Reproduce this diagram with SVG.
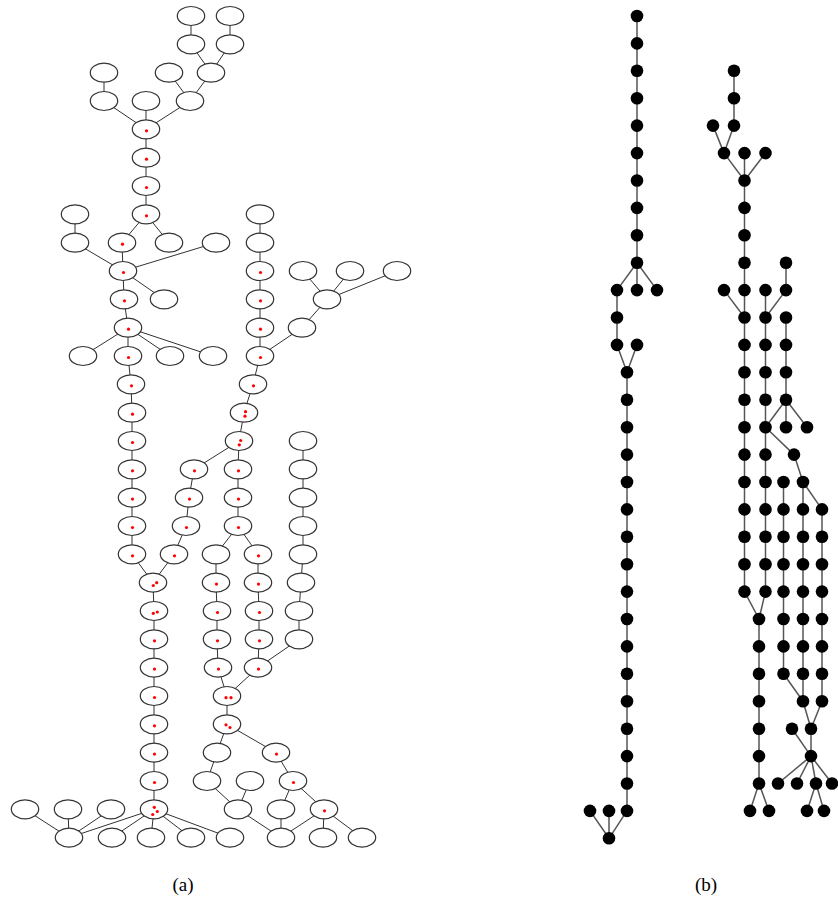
<svg xmlns="http://www.w3.org/2000/svg" width="838" height="901" viewBox="0 0 838 901">
<style>
.an ellipse{fill:#fff;stroke:#333;stroke-width:1.2}
.rd{fill:#f00}
.bn circle{fill:#000}
#a-edges line{stroke:#333;stroke-width:1}
#b-edges line{stroke:#555;stroke-width:1.5}
.lbl{font-family:"Liberation Serif","DejaVu Serif",serif;font-size:19px;fill:#000;text-anchor:middle}
</style>
<rect width="838" height="901" fill="#fff"/>
<g id="a-edges">
<line x1="191" y1="16" x2="191" y2="44.3"/>
<line x1="230" y1="16" x2="230" y2="44.3"/>
<line x1="191" y1="44.3" x2="211" y2="72.7"/>
<line x1="230" y1="44.3" x2="211" y2="72.7"/>
<line x1="104" y1="72.7" x2="104" y2="101"/>
<line x1="169" y1="72.7" x2="190" y2="101"/>
<line x1="211" y1="72.7" x2="190" y2="101"/>
<line x1="104" y1="101" x2="146" y2="129.3"/>
<line x1="146" y1="101" x2="146" y2="129.3"/>
<line x1="190" y1="101" x2="146" y2="129.3"/>
<line x1="146" y1="129.3" x2="146" y2="157.7"/>
<line x1="146" y1="157.7" x2="146" y2="186"/>
<line x1="146" y1="186" x2="146" y2="214.3"/>
<line x1="75" y1="214.3" x2="75" y2="242.7"/>
<line x1="146" y1="214.3" x2="122" y2="242.7"/>
<line x1="146" y1="214.3" x2="169" y2="242.7"/>
<line x1="260" y1="214.3" x2="260" y2="242.7"/>
<line x1="75" y1="242.7" x2="123" y2="271"/>
<line x1="122" y1="242.7" x2="123" y2="271"/>
<line x1="216" y1="242.7" x2="123" y2="271"/>
<line x1="260" y1="242.7" x2="260" y2="271"/>
<line x1="123" y1="271" x2="124" y2="299.3"/>
<line x1="123" y1="271" x2="164" y2="299.3"/>
<line x1="260" y1="271" x2="260" y2="299.3"/>
<line x1="303" y1="271" x2="327" y2="299.3"/>
<line x1="350" y1="271" x2="327" y2="299.3"/>
<line x1="397" y1="271" x2="327" y2="299.3"/>
<line x1="124" y1="299.3" x2="128" y2="327.7"/>
<line x1="260" y1="299.3" x2="260" y2="327.7"/>
<line x1="327" y1="299.3" x2="302" y2="327.7"/>
<line x1="128" y1="327.7" x2="83" y2="356"/>
<line x1="128" y1="327.7" x2="128" y2="356"/>
<line x1="128" y1="327.7" x2="170" y2="356"/>
<line x1="128" y1="327.7" x2="213" y2="356"/>
<line x1="260" y1="327.7" x2="260" y2="356"/>
<line x1="302" y1="327.7" x2="260" y2="356"/>
<line x1="128" y1="356" x2="131" y2="384.3"/>
<line x1="260" y1="356" x2="253" y2="384.3"/>
<line x1="131" y1="384.3" x2="132" y2="412.7"/>
<line x1="253" y1="384.3" x2="244" y2="412.7"/>
<line x1="132" y1="412.7" x2="132" y2="441"/>
<line x1="244" y1="412.7" x2="239" y2="441"/>
<line x1="132" y1="441" x2="132" y2="469.3"/>
<line x1="239" y1="441" x2="194" y2="469.3"/>
<line x1="239" y1="441" x2="238" y2="469.3"/>
<line x1="303" y1="441" x2="303" y2="469.3"/>
<line x1="132" y1="469.3" x2="132" y2="497.6"/>
<line x1="194" y1="469.3" x2="189" y2="497.6"/>
<line x1="238" y1="469.3" x2="238" y2="497.6"/>
<line x1="303" y1="469.3" x2="303" y2="497.6"/>
<line x1="132" y1="497.6" x2="132" y2="526"/>
<line x1="189" y1="497.6" x2="186" y2="526"/>
<line x1="238" y1="497.6" x2="238" y2="526"/>
<line x1="303" y1="497.6" x2="303" y2="526"/>
<line x1="132" y1="526" x2="132" y2="554.3"/>
<line x1="186" y1="526" x2="174" y2="554.3"/>
<line x1="238" y1="526" x2="216" y2="554.3"/>
<line x1="238" y1="526" x2="258" y2="554.3"/>
<line x1="303" y1="526" x2="303" y2="554.3"/>
<line x1="132" y1="554.3" x2="153" y2="582.6"/>
<line x1="174" y1="554.3" x2="153" y2="582.6"/>
<line x1="216" y1="554.3" x2="216" y2="582.6"/>
<line x1="258" y1="554.3" x2="258" y2="582.6"/>
<line x1="303" y1="554.3" x2="301" y2="582.6"/>
<line x1="153" y1="582.6" x2="154" y2="611"/>
<line x1="216" y1="582.6" x2="217" y2="611"/>
<line x1="258" y1="582.6" x2="259" y2="611"/>
<line x1="301" y1="582.6" x2="299" y2="611"/>
<line x1="154" y1="611" x2="154" y2="639.3"/>
<line x1="217" y1="611" x2="217" y2="639.3"/>
<line x1="259" y1="611" x2="259" y2="639.3"/>
<line x1="299" y1="611" x2="299" y2="639.3"/>
<line x1="154" y1="639.3" x2="154" y2="667.6"/>
<line x1="217" y1="639.3" x2="218" y2="667.6"/>
<line x1="259" y1="639.3" x2="258" y2="667.6"/>
<line x1="299" y1="639.3" x2="258" y2="667.6"/>
<line x1="154" y1="667.6" x2="154" y2="696"/>
<line x1="218" y1="667.6" x2="227" y2="696"/>
<line x1="258" y1="667.6" x2="227" y2="696"/>
<line x1="154" y1="696" x2="154" y2="724.3"/>
<line x1="227" y1="696" x2="227" y2="724.3"/>
<line x1="154" y1="724.3" x2="154" y2="752.6"/>
<line x1="227" y1="724.3" x2="217" y2="752.6"/>
<line x1="227" y1="724.3" x2="276" y2="752.6"/>
<line x1="154" y1="752.6" x2="154" y2="781"/>
<line x1="217" y1="752.6" x2="207" y2="781"/>
<line x1="276" y1="752.6" x2="293" y2="781"/>
<line x1="154" y1="781" x2="154" y2="809.3"/>
<line x1="207" y1="781" x2="238" y2="809.3"/>
<line x1="250" y1="781" x2="238" y2="809.3"/>
<line x1="293" y1="781" x2="281" y2="809.3"/>
<line x1="293" y1="781" x2="324" y2="809.3"/>
<line x1="25" y1="809.3" x2="69" y2="837.6"/>
<line x1="68" y1="809.3" x2="69" y2="837.6"/>
<line x1="111" y1="809.3" x2="69" y2="837.6"/>
<line x1="154" y1="809.3" x2="69" y2="837.6"/>
<line x1="154" y1="809.3" x2="112" y2="837.6"/>
<line x1="154" y1="809.3" x2="151" y2="837.6"/>
<line x1="154" y1="809.3" x2="191" y2="837.6"/>
<line x1="154" y1="809.3" x2="230" y2="837.6"/>
<line x1="238" y1="809.3" x2="281" y2="837.6"/>
<line x1="281" y1="809.3" x2="281" y2="837.6"/>
<line x1="324" y1="809.3" x2="281" y2="837.6"/>
<line x1="324" y1="809.3" x2="323" y2="837.6"/>
<line x1="324" y1="809.3" x2="362" y2="837.6"/>
</g>
<g id="a-nodes">
<g id="a1" class="an"><ellipse cx="191" cy="16" rx="13.7" ry="9.5"/></g>
<g id="a2" class="an"><ellipse cx="230" cy="16" rx="13.7" ry="9.5"/></g>
<g id="a3" class="an"><ellipse cx="191" cy="44.3" rx="13.7" ry="9.5"/></g>
<g id="a4" class="an"><ellipse cx="230" cy="44.3" rx="13.7" ry="9.5"/></g>
<g id="a5" class="an"><ellipse cx="104" cy="72.7" rx="13.7" ry="9.5"/></g>
<g id="a6" class="an"><ellipse cx="169" cy="72.7" rx="13.7" ry="9.5"/></g>
<g id="a7" class="an"><ellipse cx="211" cy="72.7" rx="13.7" ry="9.5"/></g>
<g id="a8" class="an"><ellipse cx="104" cy="101" rx="13.7" ry="9.5"/></g>
<g id="a9" class="an"><ellipse cx="146" cy="101" rx="13.7" ry="9.5"/></g>
<g id="a10" class="an"><ellipse cx="190" cy="101" rx="13.7" ry="9.5"/></g>
<g id="a11" class="an"><ellipse cx="146" cy="129.3" rx="13.7" ry="9.5"/><circle class="rd" cx="146.5" cy="130.8" r="1.6"/></g>
<g id="a12" class="an"><ellipse cx="146" cy="157.7" rx="13.7" ry="9.5"/><circle class="rd" cx="146.5" cy="159.2" r="1.6"/></g>
<g id="a13" class="an"><ellipse cx="146" cy="186" rx="13.7" ry="9.5"/><circle class="rd" cx="146.5" cy="187.5" r="1.6"/></g>
<g id="a14" class="an"><ellipse cx="75" cy="214.3" rx="13.7" ry="9.5"/></g>
<g id="a15" class="an"><ellipse cx="146" cy="214.3" rx="13.7" ry="9.5"/><circle class="rd" cx="146.5" cy="215.8" r="1.6"/></g>
<g id="a16" class="an"><ellipse cx="260" cy="214.3" rx="13.7" ry="9.5"/></g>
<g id="a17" class="an"><ellipse cx="75" cy="242.7" rx="13.7" ry="9.5"/></g>
<g id="a18" class="an"><ellipse cx="122" cy="242.7" rx="13.7" ry="9.5"/><circle class="rd" cx="122.5" cy="244.2" r="1.6"/></g>
<g id="a19" class="an"><ellipse cx="169" cy="242.7" rx="13.7" ry="9.5"/></g>
<g id="a20" class="an"><ellipse cx="216" cy="242.7" rx="13.7" ry="9.5"/></g>
<g id="a21" class="an"><ellipse cx="260" cy="242.7" rx="13.7" ry="9.5"/></g>
<g id="a22" class="an"><ellipse cx="123" cy="271" rx="13.7" ry="9.5"/><circle class="rd" cx="123.5" cy="272.5" r="1.6"/></g>
<g id="a23" class="an"><ellipse cx="260" cy="271" rx="13.7" ry="9.5"/><circle class="rd" cx="260.5" cy="272.5" r="1.6"/></g>
<g id="a24" class="an"><ellipse cx="303" cy="271" rx="13.7" ry="9.5"/></g>
<g id="a25" class="an"><ellipse cx="350" cy="271" rx="13.7" ry="9.5"/></g>
<g id="a26" class="an"><ellipse cx="397" cy="271" rx="13.7" ry="9.5"/></g>
<g id="a27" class="an"><ellipse cx="124" cy="299.3" rx="13.7" ry="9.5"/><circle class="rd" cx="124.5" cy="300.8" r="1.6"/></g>
<g id="a28" class="an"><ellipse cx="164" cy="299.3" rx="13.7" ry="9.5"/></g>
<g id="a29" class="an"><ellipse cx="260" cy="299.3" rx="13.7" ry="9.5"/><circle class="rd" cx="260.5" cy="300.8" r="1.6"/></g>
<g id="a30" class="an"><ellipse cx="327" cy="299.3" rx="13.7" ry="9.5"/></g>
<g id="a31" class="an"><ellipse cx="128" cy="327.7" rx="13.7" ry="9.5"/><circle class="rd" cx="128.5" cy="329.2" r="1.6"/></g>
<g id="a32" class="an"><ellipse cx="260" cy="327.7" rx="13.7" ry="9.5"/><circle class="rd" cx="260.5" cy="329.2" r="1.6"/></g>
<g id="a33" class="an"><ellipse cx="302" cy="327.7" rx="13.7" ry="9.5"/></g>
<g id="a34" class="an"><ellipse cx="83" cy="356" rx="13.7" ry="9.5"/></g>
<g id="a35" class="an"><ellipse cx="128" cy="356" rx="13.7" ry="9.5"/><circle class="rd" cx="128.5" cy="357.5" r="1.6"/></g>
<g id="a36" class="an"><ellipse cx="170" cy="356" rx="13.7" ry="9.5"/></g>
<g id="a37" class="an"><ellipse cx="213" cy="356" rx="13.7" ry="9.5"/></g>
<g id="a38" class="an"><ellipse cx="260" cy="356" rx="13.7" ry="9.5"/><circle class="rd" cx="260.5" cy="357.5" r="1.6"/></g>
<g id="a39" class="an"><ellipse cx="131" cy="384.3" rx="13.7" ry="9.5"/><circle class="rd" cx="131.5" cy="385.8" r="1.6"/></g>
<g id="a40" class="an"><ellipse cx="253" cy="384.3" rx="13.7" ry="9.5"/><circle class="rd" cx="253.5" cy="385.8" r="1.6"/></g>
<g id="a41" class="an"><ellipse cx="132" cy="412.7" rx="13.7" ry="9.5"/><circle class="rd" cx="132.5" cy="414.2" r="1.6"/></g>
<g id="a42" class="an"><ellipse cx="244" cy="412.7" rx="13.7" ry="9.5"/><circle class="rd" cx="245.5" cy="411.7" r="1.6"/><circle class="rd" cx="245" cy="416.2" r="1.6"/></g>
<g id="a43" class="an"><ellipse cx="132" cy="441" rx="13.7" ry="9.5"/><circle class="rd" cx="132.5" cy="442.5" r="1.6"/></g>
<g id="a44" class="an"><ellipse cx="239" cy="441" rx="13.7" ry="9.5"/><circle class="rd" cx="240.7" cy="440.5" r="1.6"/><circle class="rd" cx="239.3" cy="444.8" r="1.6"/></g>
<g id="a45" class="an"><ellipse cx="303" cy="441" rx="13.7" ry="9.5"/></g>
<g id="a46" class="an"><ellipse cx="132" cy="469.3" rx="13.7" ry="9.5"/><circle class="rd" cx="132.5" cy="470.8" r="1.6"/></g>
<g id="a47" class="an"><ellipse cx="194" cy="469.3" rx="13.7" ry="9.5"/><circle class="rd" cx="194.5" cy="470.8" r="1.6"/></g>
<g id="a48" class="an"><ellipse cx="238" cy="469.3" rx="13.7" ry="9.5"/><circle class="rd" cx="238.5" cy="470.8" r="1.6"/></g>
<g id="a49" class="an"><ellipse cx="303" cy="469.3" rx="13.7" ry="9.5"/></g>
<g id="a50" class="an"><ellipse cx="132" cy="497.6" rx="13.7" ry="9.5"/><circle class="rd" cx="132.5" cy="499.1" r="1.6"/></g>
<g id="a51" class="an"><ellipse cx="189" cy="497.6" rx="13.7" ry="9.5"/><circle class="rd" cx="189.5" cy="499.1" r="1.6"/></g>
<g id="a52" class="an"><ellipse cx="238" cy="497.6" rx="13.7" ry="9.5"/><circle class="rd" cx="238.5" cy="499.1" r="1.6"/></g>
<g id="a53" class="an"><ellipse cx="303" cy="497.6" rx="13.7" ry="9.5"/></g>
<g id="a54" class="an"><ellipse cx="132" cy="526" rx="13.7" ry="9.5"/><circle class="rd" cx="132.5" cy="527.5" r="1.6"/></g>
<g id="a55" class="an"><ellipse cx="186" cy="526" rx="13.7" ry="9.5"/><circle class="rd" cx="186.5" cy="527.5" r="1.6"/></g>
<g id="a56" class="an"><ellipse cx="238" cy="526" rx="13.7" ry="9.5"/><circle class="rd" cx="238.5" cy="527.5" r="1.6"/></g>
<g id="a57" class="an"><ellipse cx="303" cy="526" rx="13.7" ry="9.5"/></g>
<g id="a58" class="an"><ellipse cx="132" cy="554.3" rx="13.7" ry="9.5"/><circle class="rd" cx="132.5" cy="555.8" r="1.6"/></g>
<g id="a59" class="an"><ellipse cx="174" cy="554.3" rx="13.7" ry="9.5"/><circle class="rd" cx="174.5" cy="555.8" r="1.6"/></g>
<g id="a60" class="an"><ellipse cx="216" cy="554.3" rx="13.7" ry="9.5"/></g>
<g id="a61" class="an"><ellipse cx="258" cy="554.3" rx="13.7" ry="9.5"/><circle class="rd" cx="258.5" cy="555.8" r="1.6"/></g>
<g id="a62" class="an"><ellipse cx="303" cy="554.3" rx="13.7" ry="9.5"/></g>
<g id="a63" class="an"><ellipse cx="153" cy="582.6" rx="13.7" ry="9.5"/><circle class="rd" cx="153.3" cy="585.5" r="1.6"/><circle class="rd" cx="156.7" cy="582.7" r="1.6"/></g>
<g id="a64" class="an"><ellipse cx="216" cy="582.6" rx="13.7" ry="9.5"/><circle class="rd" cx="216.5" cy="584.1" r="1.6"/></g>
<g id="a65" class="an"><ellipse cx="258" cy="582.6" rx="13.7" ry="9.5"/><circle class="rd" cx="258.5" cy="584.1" r="1.6"/></g>
<g id="a66" class="an"><ellipse cx="301" cy="582.6" rx="13.7" ry="9.5"/></g>
<g id="a67" class="an"><ellipse cx="154" cy="611" rx="13.7" ry="9.5"/><circle class="rd" cx="153.3" cy="613.3" r="1.6"/><circle class="rd" cx="157.3" cy="612" r="1.6"/></g>
<g id="a68" class="an"><ellipse cx="217" cy="611" rx="13.7" ry="9.5"/><circle class="rd" cx="217.5" cy="612.5" r="1.6"/></g>
<g id="a69" class="an"><ellipse cx="259" cy="611" rx="13.7" ry="9.5"/><circle class="rd" cx="259.5" cy="612.5" r="1.6"/></g>
<g id="a70" class="an"><ellipse cx="299" cy="611" rx="13.7" ry="9.5"/></g>
<g id="a71" class="an"><ellipse cx="154" cy="639.3" rx="13.7" ry="9.5"/><circle class="rd" cx="154.5" cy="640.8" r="1.6"/></g>
<g id="a72" class="an"><ellipse cx="217" cy="639.3" rx="13.7" ry="9.5"/><circle class="rd" cx="217.5" cy="640.8" r="1.6"/></g>
<g id="a73" class="an"><ellipse cx="259" cy="639.3" rx="13.7" ry="9.5"/><circle class="rd" cx="259.5" cy="640.8" r="1.6"/></g>
<g id="a74" class="an"><ellipse cx="299" cy="639.3" rx="13.7" ry="9.5"/></g>
<g id="a75" class="an"><ellipse cx="154" cy="667.6" rx="13.7" ry="9.5"/><circle class="rd" cx="154.5" cy="669.1" r="1.6"/></g>
<g id="a76" class="an"><ellipse cx="218" cy="667.6" rx="13.7" ry="9.5"/><circle class="rd" cx="218.5" cy="669.1" r="1.6"/></g>
<g id="a77" class="an"><ellipse cx="258" cy="667.6" rx="13.7" ry="9.5"/><circle class="rd" cx="258.5" cy="669.1" r="1.6"/></g>
<g id="a78" class="an"><ellipse cx="154" cy="696" rx="13.7" ry="9.5"/><circle class="rd" cx="154.5" cy="697.5" r="1.6"/></g>
<g id="a79" class="an"><ellipse cx="227" cy="696" rx="13.7" ry="9.5"/><circle class="rd" cx="226" cy="697.7" r="1.6"/><circle class="rd" cx="231" cy="697.7" r="1.6"/></g>
<g id="a80" class="an"><ellipse cx="154" cy="724.3" rx="13.7" ry="9.5"/><circle class="rd" cx="154.5" cy="725.8" r="1.6"/></g>
<g id="a81" class="an"><ellipse cx="227" cy="724.3" rx="13.7" ry="9.5"/><circle class="rd" cx="226" cy="724.8" r="1.6"/><circle class="rd" cx="230" cy="727.5" r="1.6"/></g>
<g id="a82" class="an"><ellipse cx="154" cy="752.6" rx="13.7" ry="9.5"/><circle class="rd" cx="154.5" cy="754.1" r="1.6"/></g>
<g id="a83" class="an"><ellipse cx="217" cy="752.6" rx="13.7" ry="9.5"/></g>
<g id="a84" class="an"><ellipse cx="276" cy="752.6" rx="13.7" ry="9.5"/><circle class="rd" cx="276.5" cy="754.1" r="1.6"/></g>
<g id="a85" class="an"><ellipse cx="154" cy="781" rx="13.7" ry="9.5"/><circle class="rd" cx="154.5" cy="782.5" r="1.6"/></g>
<g id="a86" class="an"><ellipse cx="207" cy="781" rx="13.7" ry="9.5"/></g>
<g id="a87" class="an"><ellipse cx="250" cy="781" rx="13.7" ry="9.5"/></g>
<g id="a88" class="an"><ellipse cx="293" cy="781" rx="13.7" ry="9.5"/><circle class="rd" cx="293.5" cy="782.5" r="1.6"/></g>
<g id="a89" class="an"><ellipse cx="25" cy="809.3" rx="13.7" ry="9.5"/></g>
<g id="a90" class="an"><ellipse cx="68" cy="809.3" rx="13.7" ry="9.5"/></g>
<g id="a91" class="an"><ellipse cx="111" cy="809.3" rx="13.7" ry="9.5"/></g>
<g id="a92" class="an"><ellipse cx="154" cy="809.3" rx="13.7" ry="9.5"/><circle class="rd" cx="154.3" cy="807.3" r="1.6"/><circle class="rd" cx="157.3" cy="811.5" r="1.6"/><circle class="rd" cx="152.7" cy="814.5" r="1.6"/></g>
<g id="a93" class="an"><ellipse cx="238" cy="809.3" rx="13.7" ry="9.5"/></g>
<g id="a94" class="an"><ellipse cx="281" cy="809.3" rx="13.7" ry="9.5"/></g>
<g id="a95" class="an"><ellipse cx="324" cy="809.3" rx="13.7" ry="9.5"/><circle class="rd" cx="324.5" cy="810.8" r="1.6"/></g>
<g id="a96" class="an"><ellipse cx="69" cy="837.6" rx="13.7" ry="9.5"/></g>
<g id="a97" class="an"><ellipse cx="112" cy="837.6" rx="13.7" ry="9.5"/></g>
<g id="a98" class="an"><ellipse cx="151" cy="837.6" rx="13.7" ry="9.5"/></g>
<g id="a99" class="an"><ellipse cx="191" cy="837.6" rx="13.7" ry="9.5"/></g>
<g id="a100" class="an"><ellipse cx="230" cy="837.6" rx="13.7" ry="9.5"/></g>
<g id="a101" class="an"><ellipse cx="281" cy="837.6" rx="13.7" ry="9.5"/></g>
<g id="a102" class="an"><ellipse cx="323" cy="837.6" rx="13.7" ry="9.5"/></g>
<g id="a103" class="an"><ellipse cx="362" cy="837.6" rx="13.7" ry="9.5"/></g>
</g>
<g id="b-edges">
<line x1="637" y1="16" x2="637" y2="43.4"/>
<line x1="637" y1="43.4" x2="637" y2="70.8"/>
<line x1="637" y1="70.8" x2="637" y2="98.2"/>
<line x1="637" y1="98.2" x2="637" y2="125.6"/>
<line x1="637" y1="125.6" x2="637" y2="153.1"/>
<line x1="637" y1="153.1" x2="637" y2="180.5"/>
<line x1="637" y1="180.5" x2="637" y2="207.9"/>
<line x1="637" y1="207.9" x2="637" y2="235.3"/>
<line x1="637" y1="235.3" x2="637" y2="262.7"/>
<line x1="637" y1="262.7" x2="617" y2="290.1"/>
<line x1="637" y1="262.7" x2="637" y2="290.1"/>
<line x1="637" y1="262.7" x2="657" y2="290.1"/>
<line x1="617" y1="290.1" x2="617" y2="317.5"/>
<line x1="617" y1="317.5" x2="617" y2="344.9"/>
<line x1="617" y1="344.9" x2="627" y2="372.3"/>
<line x1="637" y1="344.9" x2="627" y2="372.3"/>
<line x1="627" y1="372.3" x2="627" y2="399.7"/>
<line x1="627" y1="399.7" x2="627" y2="427.2"/>
<line x1="627" y1="427.2" x2="627" y2="454.6"/>
<line x1="627" y1="454.6" x2="627" y2="482"/>
<line x1="627" y1="482" x2="627" y2="509.4"/>
<line x1="627" y1="509.4" x2="627" y2="536.8"/>
<line x1="627" y1="536.8" x2="627" y2="564.2"/>
<line x1="627" y1="564.2" x2="627" y2="591.6"/>
<line x1="627" y1="591.6" x2="627" y2="619"/>
<line x1="627" y1="619" x2="627" y2="646.4"/>
<line x1="627" y1="646.4" x2="627" y2="673.8"/>
<line x1="627" y1="673.8" x2="627" y2="701.3"/>
<line x1="627" y1="701.3" x2="627" y2="728.7"/>
<line x1="627" y1="728.7" x2="627" y2="756.1"/>
<line x1="627" y1="756.1" x2="627" y2="783.5"/>
<line x1="627" y1="783.5" x2="627" y2="810.9"/>
<line x1="590" y1="810.9" x2="609" y2="838.3"/>
<line x1="609" y1="810.9" x2="609" y2="838.3"/>
<line x1="627" y1="810.9" x2="609" y2="838.3"/>
<line x1="734" y1="70.8" x2="734" y2="98.2"/>
<line x1="734" y1="98.2" x2="734" y2="125.6"/>
<line x1="713" y1="125.6" x2="724" y2="153.1"/>
<line x1="734" y1="125.6" x2="724" y2="153.1"/>
<line x1="724" y1="153.1" x2="744.5" y2="180.5"/>
<line x1="744.5" y1="153.1" x2="744.5" y2="180.5"/>
<line x1="765.5" y1="153.1" x2="744.5" y2="180.5"/>
<line x1="744.5" y1="180.5" x2="744.5" y2="207.9"/>
<line x1="744.5" y1="207.9" x2="744.5" y2="235.3"/>
<line x1="744.5" y1="235.3" x2="744.5" y2="262.7"/>
<line x1="744.5" y1="262.7" x2="744.5" y2="290.1"/>
<line x1="744.5" y1="290.1" x2="744.5" y2="317.5"/>
<line x1="744.5" y1="317.5" x2="744.5" y2="344.9"/>
<line x1="744.5" y1="344.9" x2="744.5" y2="372.3"/>
<line x1="744.5" y1="372.3" x2="744.5" y2="399.7"/>
<line x1="744.5" y1="399.7" x2="744.5" y2="427.2"/>
<line x1="744.5" y1="427.2" x2="744.5" y2="454.6"/>
<line x1="744.5" y1="454.6" x2="744.5" y2="482"/>
<line x1="744.5" y1="482" x2="744.5" y2="509.4"/>
<line x1="744.5" y1="509.4" x2="744.5" y2="536.8"/>
<line x1="744.5" y1="536.8" x2="744.5" y2="564.2"/>
<line x1="744.5" y1="564.2" x2="744.5" y2="591.6"/>
<line x1="786" y1="262.7" x2="786" y2="290.1"/>
<line x1="724" y1="290.1" x2="744.5" y2="317.5"/>
<line x1="765.5" y1="290.1" x2="765.5" y2="317.5"/>
<line x1="786" y1="290.1" x2="765.5" y2="317.5"/>
<line x1="786" y1="317.5" x2="786" y2="344.9"/>
<line x1="786" y1="344.9" x2="786" y2="372.3"/>
<line x1="786" y1="372.3" x2="786" y2="399.7"/>
<line x1="765.5" y1="317.5" x2="765.5" y2="344.9"/>
<line x1="765.5" y1="344.9" x2="765.5" y2="372.3"/>
<line x1="765.5" y1="372.3" x2="765.5" y2="399.7"/>
<line x1="765.5" y1="399.7" x2="765.5" y2="427.2"/>
<line x1="786" y1="399.7" x2="765.5" y2="427.2"/>
<line x1="786" y1="399.7" x2="786" y2="427.2"/>
<line x1="786" y1="399.7" x2="807" y2="427.2"/>
<line x1="765.5" y1="427.2" x2="765.5" y2="454.6"/>
<line x1="765.5" y1="427.2" x2="794" y2="454.6"/>
<line x1="765.5" y1="454.6" x2="765.5" y2="482"/>
<line x1="794" y1="454.6" x2="803" y2="482"/>
<line x1="765.5" y1="482" x2="765.5" y2="509.4"/>
<line x1="765.5" y1="509.4" x2="765.5" y2="536.8"/>
<line x1="765.5" y1="536.8" x2="765.5" y2="564.2"/>
<line x1="765.5" y1="564.2" x2="765.5" y2="591.6"/>
<line x1="783.5" y1="482" x2="783.5" y2="509.4"/>
<line x1="783.5" y1="509.4" x2="783.5" y2="536.8"/>
<line x1="783.5" y1="536.8" x2="783.5" y2="564.2"/>
<line x1="783.5" y1="564.2" x2="783.5" y2="591.6"/>
<line x1="803" y1="482" x2="803" y2="509.4"/>
<line x1="803" y1="509.4" x2="803" y2="536.8"/>
<line x1="803" y1="536.8" x2="803" y2="564.2"/>
<line x1="803" y1="564.2" x2="803" y2="591.6"/>
<line x1="803" y1="482" x2="822" y2="509.4"/>
<line x1="822" y1="509.4" x2="822" y2="536.8"/>
<line x1="822" y1="536.8" x2="822" y2="564.2"/>
<line x1="822" y1="564.2" x2="822" y2="591.6"/>
<line x1="744.5" y1="591.6" x2="759" y2="619"/>
<line x1="765.5" y1="591.6" x2="759" y2="619"/>
<line x1="783.5" y1="591.6" x2="783.5" y2="619"/>
<line x1="803" y1="591.6" x2="803" y2="619"/>
<line x1="822" y1="591.6" x2="822" y2="619"/>
<line x1="759" y1="619" x2="759" y2="646.4"/>
<line x1="759" y1="646.4" x2="759" y2="673.8"/>
<line x1="759" y1="673.8" x2="759" y2="701.3"/>
<line x1="759" y1="701.3" x2="759" y2="728.7"/>
<line x1="759" y1="728.7" x2="759" y2="756.1"/>
<line x1="759" y1="756.1" x2="759" y2="783.5"/>
<line x1="783.5" y1="619" x2="783.5" y2="646.4"/>
<line x1="783.5" y1="646.4" x2="783.5" y2="673.8"/>
<line x1="803" y1="619" x2="803" y2="646.4"/>
<line x1="803" y1="646.4" x2="803" y2="673.8"/>
<line x1="803" y1="673.8" x2="803" y2="701.3"/>
<line x1="822" y1="619" x2="822" y2="646.4"/>
<line x1="822" y1="646.4" x2="822" y2="673.8"/>
<line x1="822" y1="673.8" x2="822" y2="701.3"/>
<line x1="783.5" y1="673.8" x2="803" y2="701.3"/>
<line x1="803" y1="701.3" x2="811" y2="728.7"/>
<line x1="822" y1="701.3" x2="811" y2="728.7"/>
<line x1="792" y1="728.7" x2="811" y2="756.1"/>
<line x1="811" y1="728.7" x2="811" y2="756.1"/>
<line x1="811" y1="756.1" x2="778" y2="783.5"/>
<line x1="811" y1="756.1" x2="797" y2="783.5"/>
<line x1="811" y1="756.1" x2="816" y2="783.5"/>
<line x1="811" y1="756.1" x2="832" y2="783.5"/>
<line x1="759" y1="783.5" x2="750" y2="810.9"/>
<line x1="759" y1="783.5" x2="769" y2="810.9"/>
<line x1="816" y1="783.5" x2="807" y2="810.9"/>
<line x1="816" y1="783.5" x2="824" y2="810.9"/>
</g>
<g id="b-nodes" class="bn">
<g id="b1"><circle cx="637" cy="16" r="6.3"/></g>
<g id="b2"><circle cx="637" cy="43.4" r="6.3"/></g>
<g id="b3"><circle cx="637" cy="70.8" r="6.3"/></g>
<g id="b4"><circle cx="637" cy="98.2" r="6.3"/></g>
<g id="b5"><circle cx="637" cy="125.6" r="6.3"/></g>
<g id="b6"><circle cx="637" cy="153.1" r="6.3"/></g>
<g id="b7"><circle cx="637" cy="180.5" r="6.3"/></g>
<g id="b8"><circle cx="637" cy="207.9" r="6.3"/></g>
<g id="b9"><circle cx="637" cy="235.3" r="6.3"/></g>
<g id="b10"><circle cx="637" cy="262.7" r="6.3"/></g>
<g id="b11"><circle cx="617" cy="290.1" r="6.3"/></g>
<g id="b12"><circle cx="637" cy="290.1" r="6.3"/></g>
<g id="b13"><circle cx="657" cy="290.1" r="6.3"/></g>
<g id="b14"><circle cx="617" cy="317.5" r="6.3"/></g>
<g id="b15"><circle cx="617" cy="344.9" r="6.3"/></g>
<g id="b16"><circle cx="637" cy="344.9" r="6.3"/></g>
<g id="b17"><circle cx="627" cy="372.3" r="6.3"/></g>
<g id="b18"><circle cx="627" cy="399.7" r="6.3"/></g>
<g id="b19"><circle cx="627" cy="427.2" r="6.3"/></g>
<g id="b20"><circle cx="627" cy="454.6" r="6.3"/></g>
<g id="b21"><circle cx="627" cy="482" r="6.3"/></g>
<g id="b22"><circle cx="627" cy="509.4" r="6.3"/></g>
<g id="b23"><circle cx="627" cy="536.8" r="6.3"/></g>
<g id="b24"><circle cx="627" cy="564.2" r="6.3"/></g>
<g id="b25"><circle cx="627" cy="591.6" r="6.3"/></g>
<g id="b26"><circle cx="627" cy="619" r="6.3"/></g>
<g id="b27"><circle cx="627" cy="646.4" r="6.3"/></g>
<g id="b28"><circle cx="627" cy="673.8" r="6.3"/></g>
<g id="b29"><circle cx="627" cy="701.3" r="6.3"/></g>
<g id="b30"><circle cx="627" cy="728.7" r="6.3"/></g>
<g id="b31"><circle cx="627" cy="756.1" r="6.3"/></g>
<g id="b32"><circle cx="627" cy="783.5" r="6.3"/></g>
<g id="b33"><circle cx="627" cy="810.9" r="6.3"/></g>
<g id="b34"><circle cx="590" cy="810.9" r="6.3"/></g>
<g id="b35"><circle cx="609" cy="810.9" r="6.3"/></g>
<g id="b36"><circle cx="609" cy="838.3" r="6.3"/></g>
<g id="b37"><circle cx="734" cy="70.8" r="6.3"/></g>
<g id="b38"><circle cx="734" cy="98.2" r="6.3"/></g>
<g id="b39"><circle cx="713" cy="125.6" r="6.3"/></g>
<g id="b40"><circle cx="734" cy="125.6" r="6.3"/></g>
<g id="b41"><circle cx="724" cy="153.1" r="6.3"/></g>
<g id="b42"><circle cx="744.5" cy="153.1" r="6.3"/></g>
<g id="b43"><circle cx="765.5" cy="153.1" r="6.3"/></g>
<g id="b44"><circle cx="744.5" cy="180.5" r="6.3"/></g>
<g id="b45"><circle cx="744.5" cy="207.9" r="6.3"/></g>
<g id="b46"><circle cx="744.5" cy="235.3" r="6.3"/></g>
<g id="b47"><circle cx="744.5" cy="262.7" r="6.3"/></g>
<g id="b48"><circle cx="786" cy="262.7" r="6.3"/></g>
<g id="b49"><circle cx="724" cy="290.1" r="6.3"/></g>
<g id="b50"><circle cx="744.5" cy="290.1" r="6.3"/></g>
<g id="b51"><circle cx="765.5" cy="290.1" r="6.3"/></g>
<g id="b52"><circle cx="786" cy="290.1" r="6.3"/></g>
<g id="b53"><circle cx="744.5" cy="317.5" r="6.3"/></g>
<g id="b54"><circle cx="765.5" cy="317.5" r="6.3"/></g>
<g id="b55"><circle cx="786" cy="317.5" r="6.3"/></g>
<g id="b56"><circle cx="744.5" cy="344.9" r="6.3"/></g>
<g id="b57"><circle cx="765.5" cy="344.9" r="6.3"/></g>
<g id="b58"><circle cx="786" cy="344.9" r="6.3"/></g>
<g id="b59"><circle cx="744.5" cy="372.3" r="6.3"/></g>
<g id="b60"><circle cx="765.5" cy="372.3" r="6.3"/></g>
<g id="b61"><circle cx="786" cy="372.3" r="6.3"/></g>
<g id="b62"><circle cx="744.5" cy="399.7" r="6.3"/></g>
<g id="b63"><circle cx="765.5" cy="399.7" r="6.3"/></g>
<g id="b64"><circle cx="786" cy="399.7" r="6.3"/></g>
<g id="b65"><circle cx="744.5" cy="427.2" r="6.3"/></g>
<g id="b66"><circle cx="765.5" cy="427.2" r="6.3"/></g>
<g id="b67"><circle cx="786" cy="427.2" r="6.3"/></g>
<g id="b68"><circle cx="807" cy="427.2" r="6.3"/></g>
<g id="b69"><circle cx="744.5" cy="454.6" r="6.3"/></g>
<g id="b70"><circle cx="765.5" cy="454.6" r="6.3"/></g>
<g id="b71"><circle cx="794" cy="454.6" r="6.3"/></g>
<g id="b72"><circle cx="744.5" cy="482" r="6.3"/></g>
<g id="b73"><circle cx="765.5" cy="482" r="6.3"/></g>
<g id="b74"><circle cx="783.5" cy="482" r="6.3"/></g>
<g id="b75"><circle cx="803" cy="482" r="6.3"/></g>
<g id="b76"><circle cx="744.5" cy="509.4" r="6.3"/></g>
<g id="b77"><circle cx="765.5" cy="509.4" r="6.3"/></g>
<g id="b78"><circle cx="783.5" cy="509.4" r="6.3"/></g>
<g id="b79"><circle cx="803" cy="509.4" r="6.3"/></g>
<g id="b80"><circle cx="822" cy="509.4" r="6.3"/></g>
<g id="b81"><circle cx="744.5" cy="536.8" r="6.3"/></g>
<g id="b82"><circle cx="765.5" cy="536.8" r="6.3"/></g>
<g id="b83"><circle cx="783.5" cy="536.8" r="6.3"/></g>
<g id="b84"><circle cx="803" cy="536.8" r="6.3"/></g>
<g id="b85"><circle cx="822" cy="536.8" r="6.3"/></g>
<g id="b86"><circle cx="744.5" cy="564.2" r="6.3"/></g>
<g id="b87"><circle cx="765.5" cy="564.2" r="6.3"/></g>
<g id="b88"><circle cx="783.5" cy="564.2" r="6.3"/></g>
<g id="b89"><circle cx="803" cy="564.2" r="6.3"/></g>
<g id="b90"><circle cx="822" cy="564.2" r="6.3"/></g>
<g id="b91"><circle cx="744.5" cy="591.6" r="6.3"/></g>
<g id="b92"><circle cx="765.5" cy="591.6" r="6.3"/></g>
<g id="b93"><circle cx="783.5" cy="591.6" r="6.3"/></g>
<g id="b94"><circle cx="803" cy="591.6" r="6.3"/></g>
<g id="b95"><circle cx="822" cy="591.6" r="6.3"/></g>
<g id="b96"><circle cx="759" cy="619" r="6.3"/></g>
<g id="b97"><circle cx="783.5" cy="619" r="6.3"/></g>
<g id="b98"><circle cx="803" cy="619" r="6.3"/></g>
<g id="b99"><circle cx="822" cy="619" r="6.3"/></g>
<g id="b100"><circle cx="759" cy="646.4" r="6.3"/></g>
<g id="b101"><circle cx="783.5" cy="646.4" r="6.3"/></g>
<g id="b102"><circle cx="803" cy="646.4" r="6.3"/></g>
<g id="b103"><circle cx="822" cy="646.4" r="6.3"/></g>
<g id="b104"><circle cx="759" cy="673.8" r="6.3"/></g>
<g id="b105"><circle cx="783.5" cy="673.8" r="6.3"/></g>
<g id="b106"><circle cx="803" cy="673.8" r="6.3"/></g>
<g id="b107"><circle cx="822" cy="673.8" r="6.3"/></g>
<g id="b108"><circle cx="759" cy="701.3" r="6.3"/></g>
<g id="b109"><circle cx="803" cy="701.3" r="6.3"/></g>
<g id="b110"><circle cx="822" cy="701.3" r="6.3"/></g>
<g id="b111"><circle cx="759" cy="728.7" r="6.3"/></g>
<g id="b112"><circle cx="792" cy="728.7" r="6.3"/></g>
<g id="b113"><circle cx="811" cy="728.7" r="6.3"/></g>
<g id="b114"><circle cx="759" cy="756.1" r="6.3"/></g>
<g id="b115"><circle cx="811" cy="756.1" r="6.3"/></g>
<g id="b116"><circle cx="759" cy="783.5" r="6.3"/></g>
<g id="b117"><circle cx="778" cy="783.5" r="6.3"/></g>
<g id="b118"><circle cx="797" cy="783.5" r="6.3"/></g>
<g id="b119"><circle cx="816" cy="783.5" r="6.3"/></g>
<g id="b120"><circle cx="832" cy="783.5" r="6.3"/></g>
<g id="b121"><circle cx="750" cy="810.9" r="6.3"/></g>
<g id="b122"><circle cx="769" cy="810.9" r="6.3"/></g>
<g id="b123"><circle cx="807" cy="810.9" r="6.3"/></g>
<g id="b124"><circle cx="824" cy="810.9" r="6.3"/></g>
</g>
<text class="lbl" x="183" y="891">(a)</text>
<text class="lbl" x="706" y="891">(b)</text>
</svg>
